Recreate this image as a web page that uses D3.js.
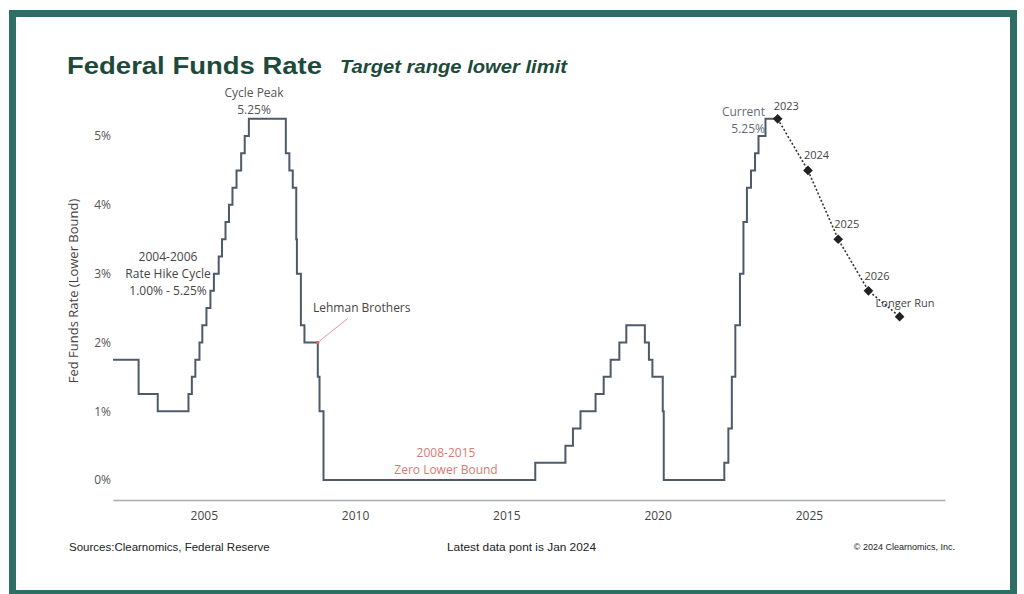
<!DOCTYPE html>
<html>
<head>
<meta charset="utf-8">
<script src="https://cdn.jsdelivr.net/npm/d3@7"></script>
<style>
  body { margin: 0; background: #fff; }
  svg text { font-family: "Open Sans", "Noto Sans", sans-serif; }
  .title { font-family: "Liberation Sans", Arial, sans-serif; }
  .foot { font-family: "Liberation Sans", Arial, sans-serif; fill: #222; }
</style>
</head>
<body>
<div id="chart"></div>
<script>
// effective dates of changes to the lower bound of the target range
const rateDates = [
  "2002-01-01", "2002-11-06", "2003-06-25", "2004-06-30", "2004-08-10", "2004-09-21",
  "2004-11-10", "2004-12-14", "2005-02-02", "2005-03-22", "2005-05-03", "2005-06-30",
  "2005-08-09", "2005-09-20", "2005-11-01", "2005-12-13", "2006-01-31", "2006-03-28",
  "2006-05-10", "2006-06-29", "2007-09-18", "2007-10-31", "2007-12-11", "2008-01-22",
  "2008-01-30", "2008-03-18", "2008-04-30", "2008-10-08", "2008-10-29", "2008-12-16",
  "2015-12-16", "2016-12-14", "2017-03-15", "2017-06-14", "2017-12-13", "2018-03-21",
  "2018-06-13", "2018-09-26", "2018-12-19", "2019-07-31", "2019-09-18", "2019-10-30",
  "2020-03-03", "2020-03-15", "2022-03-16", "2022-05-04", "2022-06-15", "2022-07-27",
  "2022-09-21", "2022-11-02", "2022-12-14", "2023-02-01", "2023-03-22", "2023-05-03",
  "2023-07-26", "2023-12-20"
];
const rateValues = [
  1.75, 1.25, 1.00, 1.25, 1.50, 1.75,
  2.00, 2.25, 2.50, 2.75, 3.00, 3.25,
  3.50, 3.75, 4.00, 4.25, 4.50, 4.75,
  5.00, 5.25, 4.75, 4.50, 4.25, 3.50,
  3.00, 2.25, 2.00, 1.50, 1.00, 0.00,
  0.25, 0.50, 0.75, 1.00, 1.25, 1.50,
  1.75, 2.00, 2.25, 2.00, 1.75, 1.50,
  1.00, 0.00, 0.25, 0.75, 1.50, 2.25,
  3.00, 3.75, 4.25, 4.50, 4.75, 5.00,
  5.25, 5.25
];

// FOMC median projections (lower bound)
const projLabels = ["2023", "2024", "2025", "2026", "Longer Run"];
const projDates = ["2023-12-20", "2024-12-20", "2025-12-20", "2026-12-20", "2027-12-31"];
const projValues = [5.25, 4.50, 3.50, 2.75, 2.375];

const xTicks = [2005, 2010, 2015, 2020, 2025];
const yTicks = [0, 1, 2, 3, 4, 5];

const W = 1024, H = 594;
const parse = d3.timeParse("%Y-%m-%d");

const svg = d3.select("#chart").append("svg")
  .attr("width", W).attr("height", H);

// frame
svg.append("rect")
  .attr("x", 12.5).attr("y", 13.5)
  .attr("width", 1001).attr("height", 580)
  .attr("fill", "none")
  .attr("stroke", "#2e6e64")
  .attr("stroke-width", 7);

// title
svg.append("text").attr("class", "title")
  .attr("x", 67).attr("y", 74)
  .attr("font-size", 24).attr("font-weight", "bold")
  .attr("fill", "#1d4a3a")
  .attr("textLength", 255).attr("lengthAdjust", "spacingAndGlyphs")
  .text("Federal Funds Rate");
svg.append("text").attr("class", "title")
  .attr("x", 340).attr("y", 73)
  .attr("font-size", 19).attr("font-weight", "bold").attr("font-style", "italic")
  .attr("fill", "#1d4a3a")
  .attr("textLength", 227).attr("lengthAdjust", "spacingAndGlyphs")
  .text("Target range lower limit");

const x = d3.scaleTime()
  .domain([parse("2002-01-01"), new Date(2029, 6, 1)])
  .range([113, 945]);
const y = d3.scaleLinear()
  .domain([-0.29, 5.8])
  .range([500, 81]);

// x axis
const xAxis = svg.append("g")
  .attr("transform", "translate(0,500)")
  .call(d3.axisBottom(x)
    .tickValues(xTicks.map(yr => new Date(yr, 0, 1)))
    .tickFormat(d3.timeFormat("%Y"))
    .tickSize(0).tickPadding(11));
xAxis.select(".domain").attr("stroke", "#a8adb3").attr("stroke-width", 1.5);
xAxis.selectAll("text").attr("font-size", 12).attr("fill", "#444");

// y axis
const yAxis = svg.append("g")
  .attr("transform", "translate(113,0)")
  .call(d3.axisLeft(y)
    .tickValues(yTicks)
    .tickFormat(d => d + "%")
    .tickSize(0).tickPadding(2));
yAxis.select(".domain").remove();
yAxis.selectAll("text").attr("font-size", 12).attr("fill", "#555");

svg.append("text")
  .attr("transform", "translate(78,291) rotate(-90)")
  .attr("text-anchor", "middle")
  .attr("font-size", 13).attr("fill", "#444")
  .text("Fed Funds Rate (Lower Bound)");

// step line
const rates = rateDates.map((d, i) => ({ date: parse(d), value: rateValues[i] }));
svg.append("path")
  .datum(rates)
  .attr("fill", "none")
  .attr("stroke", "#4e5a69")
  .attr("stroke-width", 2)
  .attr("d", d3.line().curve(d3.curveStepAfter)
    .x(d => x(d.date)).y(d => y(d.value)));

// projections
const proj = projDates.map((d, i) => ({ date: parse(d), value: projValues[i], label: projLabels[i] }));
svg.append("path")
  .datum(proj)
  .attr("fill", "none")
  .attr("stroke", "#333")
  .attr("stroke-width", 1.6)
  .attr("stroke-dasharray", "2,2")
  .attr("d", d3.line().x(d => x(d.date)).y(d => y(d.value)));
svg.selectAll(".proj")
  .data(proj).enter()
  .append("path")
  .attr("class", "proj")
  .attr("transform", d => `translate(${x(d.date)},${y(d.value)})`)
  .attr("d", d3.symbol(d3.symbolDiamond2, 60))
  .attr("fill", "#222");
svg.selectAll(".projLabel")
  .data(proj).enter()
  .append("text")
  .attr("class", "projLabel")
  .attr("x", d => x(d.date) - 4 + (d.label === "Longer Run" ? -20 : 0))
  .attr("y", (d, i) => y(d.value) - (i === 0 ? 9 : i === 4 ? 10 : 11))
  .attr("font-size", 11).attr("fill", "#444")
  .text(d => d.label);

// annotations
function note(lines, ax, ay, anchor, color, size) {
  const t = svg.append("text")
    .attr("text-anchor", anchor)
    .attr("font-size", size || 12)
    .attr("fill", color);
  lines.forEach((s, i) => {
    t.append("tspan").attr("x", ax).attr("y", ay + i * 17).text(s);
  });
}
note(["Cycle Peak", "5.25%"], 254, 97, "middle", "#555");
note(["2004-2006", "Rate Hike Cycle", "1.00% - 5.25%"], 168, 261, "middle", "#444");
note(["Lehman Brothers"], 313, 312, "start", "#444");
note(["2008-2015", "Zero Lower Bound"], 446, 457, "middle", "#d77a72");
note(["Current", "5.25%"], 765, 116, "end", "#5f6b78");

// Lehman pointer
const lehman = { date: parse("2008-10-08"), value: 2.0 };
svg.append("line")
  .attr("x1", x(lehman.date)).attr("y1", y(lehman.value))
  .attr("x2", x(lehman.date) + 30).attr("y2", y(lehman.value) - 24)
  .attr("stroke", "#e79a94").attr("stroke-width", 1);
svg.append("circle")
  .attr("cx", x(lehman.date)).attr("cy", y(lehman.value))
  .attr("r", 1.6).attr("fill", "#e0645c");

// footer
svg.append("text").attr("class", "foot")
  .attr("x", 69).attr("y", 551).attr("font-size", 11.5)
  .text("Sources:Clearnomics, Federal Reserve");
svg.append("text").attr("class", "foot")
  .attr("x", 447).attr("y", 551).attr("font-size", 11.5)
  .attr("textLength", 149).attr("lengthAdjust", "spacingAndGlyphs")
  .text("Latest data pont is Jan 2024");
svg.append("text").attr("class", "foot")
  .attr("x", 955).attr("y", 550).attr("font-size", 9)
  .attr("text-anchor", "end")
  .text("© 2024 Clearnomics, Inc.");
</script>
</body>
</html>
